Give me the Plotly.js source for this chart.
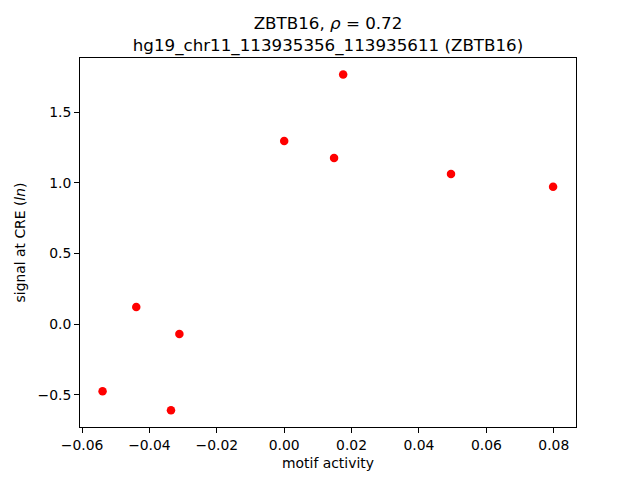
<!DOCTYPE html>
<html>
<head>
<meta charset="utf-8">
<script src="https://cdn.plot.ly/plotly-3.0.1.min.js"></script>
<style>body{margin:0;padding:0;}#chart{width:640px;height:480px;}</style>
</head>
<body>
<div id="chart"></div>
<script>
const motifActivity = [-0.0539, -0.0439, -0.0336, -0.0311, 0.0000, 0.0148, 0.0175, 0.0495, 0.0798];
const creSignal = [-0.476, 0.120, -0.610, -0.070, 1.296, 1.176, 1.767, 1.063, 0.972];
const titleLine1 = "ZBTB16, <i>ρ</i> = 0.72";
const titleLine2 = "hg19_chr11_113935356_113935611 (ZBTB16)";
const xTicks = [-0.06, -0.04, -0.02, 0.00, 0.02, 0.04, 0.06, 0.08];
const xTickText = ["−0.06", "−0.04", "−0.02", "0.00", "0.02", "0.04", "0.06", "0.08"];
const yTicks = [-0.5, 0.0, 0.5, 1.0, 1.5];
const yTickText = ["−0.5", "0.0", "0.5", "1.0", "1.5"];

const font = "DejaVu Sans, sans-serif";
const trace = {
  x: motifActivity, y: creSignal, type: "scatter", mode: "markers",
  marker: {color: "#ff0000", size: 8.5}, hoverinfo: "none"
};
const layout = {
  width: 640, height: 480,
  margin: {l: 80, r: 64, t: 58, b: 53, pad: 0},
  paper_bgcolor: "white", plot_bgcolor: "white",
  showlegend: false,
  font: {family: font, size: 13.9, color: "black"},
  title: {
    text: titleLine1 + "<br>" + titleLine2,
    font: {family: font, size: 16.7, color: "black"},
    x: 0.5125, xref: "container", xanchor: "center",
    y: 0.94, yref: "container", yanchor: "middle"
  },
  xaxis: {
    range: [-0.0606, 0.0866], tickvals: xTicks, ticktext: xTickText,
    showgrid: false, zeroline: false, showline: true, linecolor: "black", linewidth: 1,
    mirror: true, ticks: "outside", ticklen: 4.9, tickwidth: 1, tickcolor: "black",
    tickfont: {family: font, size: 13.9, color: "black"},
    title: {text: "motif activity", font: {family: font, size: 13.9, color: "black"}, standoff: 6}
  },
  yaxis: {
    range: [-0.729, 1.884], tickvals: yTicks, ticktext: yTickText,
    showgrid: false, zeroline: false, showline: true, linecolor: "black", linewidth: 1,
    mirror: true, ticks: "outside", ticklen: 4.9, tickwidth: 1, tickcolor: "black",
    tickfont: {family: font, size: 13.9, color: "black"},
    title: {text: "signal at CRE (<i>ln</i>)", font: {family: font, size: 13.9, color: "black"}, standoff: 8}
  }
};
Plotly.newPlot("chart", [trace], layout, {staticPlot: true, displayModeBar: false});
</script>
</body>
</html>
